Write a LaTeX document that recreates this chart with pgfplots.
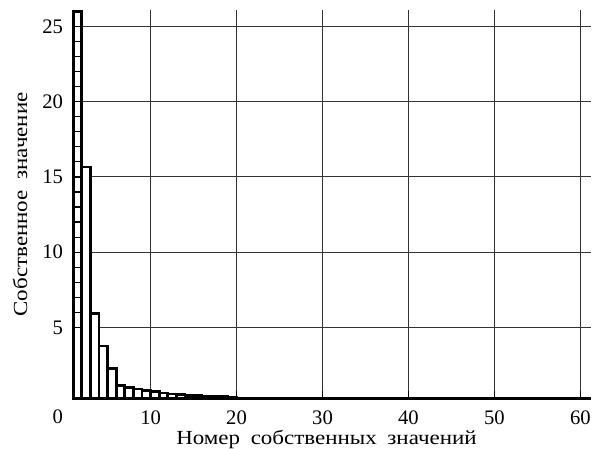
\documentclass[border=0pt]{standalone}
\usepackage{fontspec}
\setmainfont{Liberation Serif}
\newfontfamily\labelfont[FakeStretch=1.15]{Liberation Serif}
\usepackage{pgfplots}
\pgfplotsset{compat=1.18}

\pgfplotsset{
  frame/.style={
    at={(0pt,0pt)}, anchor=south west,
    scale only axis,
    width=388.8pt, height=292.1pt,
    xmin=1, xmax=61.2, ymin=0.25, ymax=26.1,
    xtick={10,20,...,60}, ytick={5,10,...,25},
  },
}

\begin{document}
\begin{tikzpicture}
\path[use as bounding box] (-55pt,-37.6pt) rectangle (396.5pt,299.6pt);
% grid only, behind the bars
\begin{axis}[
  frame,
  axis line style={draw=none},
  major tick length=0pt,
  xticklabels={}, yticklabels={},
  grid=major,
  major grid style={black!80, line width=0.8pt},
]
\end{axis}
% bars, ticks and axis lines on top
\begin{axis}[
  frame,
  axis on top,
  clip=false,
  axis x line*=bottom, axis y line*=left,
  axis line style={-, line width=2.2pt},
  minor y tick num=4,
  tick align=inside,
  major tick length=5.5pt, minor tick length=5.5pt,
  every tick/.style={black, line width=0.9pt},
  /pgf/number format/assume math mode=true,
  tick label style={font=\fontsize{15.5}{17}\selectfont},
  yticklabel style={anchor=east, inner sep=0pt, xshift=-7.5pt},
  xticklabel style={anchor=north, inner sep=0pt, yshift=-8.8pt},
  xlabel={Номер\hspace{8pt}собственных\hspace{8pt}значений},
  ylabel={Собственное\hspace{8pt}значение},
  label style={font=\labelfont\fontsize{15}{17}\selectfont, inner sep=0pt},
  x label style={at={(rel axis cs:0.4894,0)}, anchor=base, yshift=-34pt},
  y label style={at={(rel axis cs:0,0.5)}, anchor=center, yshift=40pt},
]
\addplot[ybar interval, draw=black, fill=white, line width=2pt] coordinates {
  (1,26.0) (2,15.67) (3,5.93) (4,3.76) (5,2.28) (6,1.15) (7,1.02) (8,0.90)
  (9,0.81) (10,0.74) (11,0.63) (12,0.57) (13,0.52) (14,0.48) (15,0.45)
  (16,0.43) (17,0.41) (18,0.39) (19,0.36) (20,0.36)
};
\node[font=\fontsize{15.5}{17}\selectfont, inner sep=0pt, xshift=-11.5pt, yshift=-13.5pt]
  at (rel axis cs:0,0) {0};
\end{axis}
\end{tikzpicture}
\end{document}
